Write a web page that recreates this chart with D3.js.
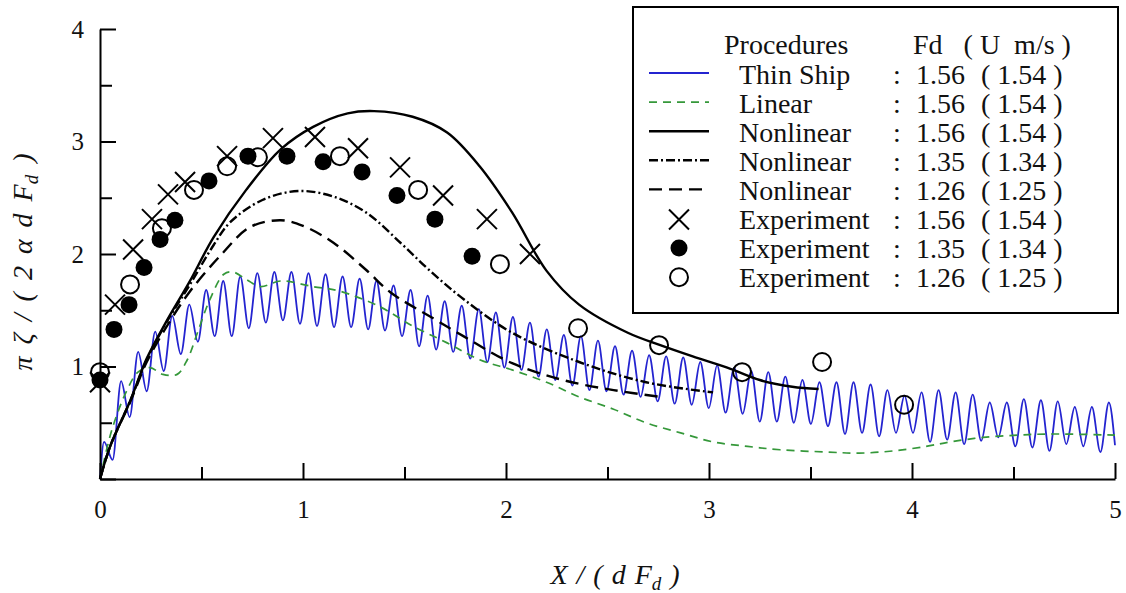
<!DOCTYPE html>
<html>
<head>
<meta charset="utf-8">
<script src="https://cdn.jsdelivr.net/npm/d3@7"></script>
<style>
body { margin: 0; background: #fff; }
svg text { font-family: "Liberation Serif", "Times New Roman", serif; fill: #111; }
</style>
</head>
<body>
<div id="chart"></div>
<script>
var width = 1126;
var height = 593;

// Thin Ship : alternating peaks / troughs
var thinX = [0,
    0.020, 0.062, 0.104, 0.146, 0.188, 0.230, 0.272, 0.314, 0.356, 0.398,
    0.440, 0.482, 0.523, 0.565, 0.607, 0.649, 0.691, 0.733, 0.775, 0.817,
    0.859, 0.901, 0.943, 0.985, 1.027, 1.069, 1.111, 1.153, 1.195, 1.237,
    1.279, 1.321, 1.362, 1.404, 1.446, 1.488, 1.530, 1.572, 1.614, 1.656,
    1.698, 1.740, 1.782, 1.824, 1.866, 1.908, 1.950, 1.992, 2.034, 2.076,
    2.118, 2.160, 2.201, 2.243, 2.285, 2.327, 2.369, 2.411, 2.453, 2.495,
    2.537, 2.579, 2.621, 2.663, 2.705, 2.747, 2.789, 2.831, 2.873, 2.915,
    2.957, 2.999, 3.040, 3.082, 3.124, 3.166, 3.208, 3.250, 3.292, 3.334,
    3.376, 3.418, 3.460, 3.502, 3.544, 3.586, 3.628, 3.670, 3.712, 3.754,
    3.796, 3.838, 3.879, 3.921, 3.963, 4.005, 4.047, 4.089, 4.131, 4.173,
    4.215, 4.257, 4.299, 4.341, 4.383, 4.425, 4.467, 4.509, 4.551, 4.593,
    4.635, 4.677, 4.718, 4.760, 4.802, 4.844, 4.886, 4.928, 4.970, 5.000];
var thinY = [0,
    0.33, 0.17, 0.87, 0.55, 1.13, 0.78, 1.31, 0.96, 1.45, 1.11,
    1.55, 1.22, 1.68, 1.27, 1.76, 1.27, 1.80, 1.34, 1.83, 1.39,
    1.84, 1.41, 1.84, 1.38, 1.83, 1.36, 1.82, 1.35, 1.80, 1.35,
    1.78, 1.33, 1.76, 1.32, 1.72, 1.27, 1.68, 1.18, 1.63, 1.15,
    1.58, 1.13, 1.54, 1.07, 1.51, 1.04, 1.48, 0.99, 1.44, 0.97,
    1.39, 0.91, 1.33, 0.88, 1.28, 0.83, 1.27, 0.79, 1.23, 0.78,
    1.18, 0.75, 1.14, 0.73, 1.10, 0.69, 1.09, 0.67, 1.08, 0.66,
    1.04, 0.63, 1.01, 0.59, 0.99, 0.58, 0.96, 0.51, 0.95, 0.51,
    0.91, 0.50, 0.88, 0.49, 0.86, 0.47, 0.86, 0.40, 0.86, 0.41,
    0.84, 0.38, 0.79, 0.41, 0.74, 0.41, 0.77, 0.33, 0.79, 0.35,
    0.77, 0.31, 0.75, 0.34, 0.68, 0.37, 0.68, 0.29, 0.71, 0.28,
    0.70, 0.25, 0.69, 0.31, 0.64, 0.29, 0.64, 0.24, 0.68, 0.30];

// Linear, Fd 1.56
var linX = [0, 0.059, 0.133, 0.187, 0.246, 0.31, 0.38, 0.43, 0.48, 0.54, 0.61, 0.655, 0.724, 0.79, 0.89, 1.05, 1.18, 1.38,
    1.54, 1.71, 1.87, 2.03, 2.20, 2.36, 2.53, 2.69, 2.86, 3.02, 3.19, 3.35, 3.58, 3.74, 3.91, 4.07, 4.19, 4.35, 4.52, 4.68, 5.0];
var linY = [0, 0.44, 0.79, 0.95, 0.99, 0.93, 0.93, 1.06, 1.30, 1.59, 1.82, 1.84, 1.77, 1.71, 1.76, 1.71, 1.67, 1.53,
    1.36, 1.21, 1.06, 0.97, 0.86, 0.73, 0.62, 0.50, 0.41, 0.33, 0.29, 0.26, 0.24, 0.23, 0.25, 0.29, 0.33, 0.37, 0.39, 0.40, 0.39];

// Nonlinear, Fd 1.56
var nl156X = [0, 0.05, 0.15, 0.23, 0.33, 0.44, 0.56, 0.72, 0.89, 1.05, 1.22, 1.35, 1.54, 1.71, 1.87, 2.03, 2.2, 2.36, 2.6, 2.76, 2.92, 3.09, 3.25, 3.41, 3.54];
var nl156Y = [0, 0.29, 0.70, 1.07, 1.41, 1.75, 2.15, 2.57, 2.93, 3.13, 3.25, 3.27, 3.22, 3.08, 2.78, 2.37, 1.85, 1.55, 1.30, 1.19, 1.09, 0.99, 0.88, 0.82, 0.80];

// Nonlinear, Fd 1.35
var nl135X = [0, 0.05, 0.15, 0.23, 0.33, 0.44, 0.56, 0.64, 0.80, 0.98, 1.15, 1.31, 1.48, 1.62, 1.79, 2.03, 2.36, 2.69, 3.02];
var nl135Y = [0, 0.29, 0.70, 1.06, 1.40, 1.72, 2.08, 2.28, 2.48, 2.56, 2.51, 2.37, 2.10, 1.86, 1.60, 1.30, 1.04, 0.86, 0.77];

// Nonlinear, Fd 1.26
var nl126X = [0, 0.05, 0.15, 0.23, 0.33, 0.44, 0.59, 0.74, 0.89, 1.0, 1.15, 1.31, 1.43, 1.63, 1.79, 2.03, 2.28, 2.53, 2.76];
var nl126Y = [0, 0.29, 0.69, 1.04, 1.36, 1.66, 1.98, 2.24, 2.30, 2.25, 2.10, 1.86, 1.66, 1.44, 1.27, 1.03, 0.88, 0.79, 0.73];

// Experiments
var exp156X = [0.0, 0.074, 0.163, 0.256, 0.335, 0.419, 0.626, 0.852, 1.059, 1.271, 1.478, 1.690, 1.906, 2.118];
var exp156Y = [0.86, 1.55, 2.04, 2.31, 2.53, 2.64, 2.87, 3.03, 3.04, 2.94, 2.77, 2.52, 2.31, 2.00];
var exp135X = [0.0, 0.069, 0.143, 0.217, 0.296, 0.369, 0.537, 0.729, 0.921, 1.099, 1.291, 1.463, 1.650, 1.833];
var exp135Y = [0.88, 1.33, 1.55, 1.88, 2.13, 2.30, 2.65, 2.87, 2.87, 2.82, 2.73, 2.52, 2.31, 1.98];
var exp126X = [0.0, 0.148, 0.305, 0.463, 0.626, 0.778, 1.182, 1.567, 1.970, 2.355, 2.754, 3.163, 3.557, 3.961];
var exp126Y = [0.95, 1.73, 2.23, 2.57, 2.78, 2.86, 2.87, 2.57, 1.91, 1.34, 1.19, 0.95, 1.04, 0.66];

var xMajor = [0, 1, 2, 3, 4, 5];
var xMinor = [0.5, 1.5, 2.5, 3.5, 4.5];
var yMajor = [0, 1, 2, 3, 4];
var yMinor = [0.5, 1.5, 2.5, 3.5];

var legendNames = ["Thin Ship", "Linear", "Nonlinear", "Nonlinear", "Nonlinear", "Experiment", "Experiment", "Experiment"];
var legendFd = ["1.56", "1.56", "1.56", "1.35", "1.26", "1.56", "1.35", "1.26"];
var legendU = ["1.54", "1.54", "1.54", "1.34", "1.25", "1.54", "1.34", "1.25"];

var blue = "#2424d0";
var green = "#35983a";

var svg = d3.select("#chart").append("svg")
    .attr("width", width)
    .attr("height", height);

var x = d3.scaleLinear().domain([0, 5]).range([100, 1115]);
var y = d3.scaleLinear().domain([0, 4]).range([479, 29]);

function zip(xs, ys) {
    return xs.map((v, i) => [v, ys[i]]);
}

var line = d3.line().x(d => x(d[0])).y(d => y(d[1])).curve(d3.curveMonotoneX);
var smooth = d3.line().x(d => x(d[0])).y(d => y(d[1])).curve(d3.curveCatmullRom.alpha(0.5));

// curves
svg.append("path").attr("d", line(zip(thinX, thinY)))
    .style("fill", "none").style("stroke", blue).style("stroke-width", "1.8px");
svg.append("path").attr("d", smooth(zip(linX, linY)))
    .style("fill", "none").style("stroke", green).style("stroke-width", "1.7px")
    .style("stroke-dasharray", "8,6");
svg.append("path").attr("d", smooth(zip(nl156X, nl156Y)))
    .style("fill", "none").style("stroke", "#000").style("stroke-width", "2.4px");
svg.append("path").attr("d", smooth(zip(nl135X, nl135Y)))
    .style("fill", "none").style("stroke", "#000").style("stroke-width", "2.4px")
    .style("stroke-dasharray", "9,3,2,3");
svg.append("path").attr("d", smooth(zip(nl126X, nl126Y)))
    .style("fill", "none").style("stroke", "#000").style("stroke-width", "2.4px")
    .style("stroke-dasharray", "13,7");

// axes
function styleAxis(g) {
    g.attr("font-family", null);
    g.select(".domain").style("stroke", "#000").style("stroke-width", "2px");
    g.selectAll(".tick line").style("stroke", "#000").style("stroke-width", "2px");
    g.selectAll(".tick text").style("font-size", "25px").style("fill", "#111");
}

svg.append("g").attr("transform", "translate(0,479)")
    .call(d3.axisBottom(x).tickValues(xMajor).tickSize(-16).tickSizeOuter(0).tickPadding(21).tickFormat(d3.format("d")))
    .call(styleAxis);
svg.append("g").attr("transform", "translate(0,479)")
    .call(d3.axisBottom(x).tickValues(xMinor).tickSize(-12).tickSizeOuter(0).tickFormat(""))
    .call(styleAxis).call(g => g.select(".domain").remove());

svg.append("g").attr("transform", "translate(100,0)")
    .call(d3.axisLeft(y).tickValues(yMajor).tickSize(-16).tickSizeOuter(0).tickPadding(16)
        .tickFormat(d => d === 0 ? "" : d3.format("d")(d)))
    .call(styleAxis);
svg.append("g").attr("transform", "translate(100,0)")
    .call(d3.axisLeft(y).tickValues(yMinor).tickSize(-12).tickSizeOuter(0).tickFormat(""))
    .call(styleAxis).call(g => g.select(".domain").remove());

// markers
var crossPath = "M-10,-10L10,10M-10,10L10,-10";
svg.selectAll(".exp156").data(zip(exp156X, exp156Y)).enter().append("path")
    .attr("class", "exp156")
    .attr("transform", d => "translate(" + x(d[0]) + "," + y(d[1]) + ")")
    .attr("d", crossPath)
    .style("fill", "none").style("stroke", "#000").style("stroke-width", "2px");
svg.selectAll(".exp135").data(zip(exp135X, exp135Y)).enter().append("circle")
    .attr("class", "exp135")
    .attr("cx", d => x(d[0])).attr("cy", d => y(d[1])).attr("r", 8.5)
    .style("fill", "#000");
svg.selectAll(".exp126").data(zip(exp126X, exp126Y)).enter().append("circle")
    .attr("class", "exp126")
    .attr("cx", d => x(d[0])).attr("cy", d => y(d[1])).attr("r", 9)
    .style("fill", "none").style("stroke", "#000").style("stroke-width", "2px");

// axis titles
var xt = svg.append("text").attr("x", 615).attr("y", 584).attr("text-anchor", "middle")
    .style("font-size", "28px").style("font-style", "italic").style("word-spacing", "2px");
xt.append("tspan").text("X / ( d F");
xt.append("tspan").text("d").attr("dy", 6).style("font-size", "19px");
xt.append("tspan").text(" )").attr("dy", -6);

var yt = svg.append("text").attr("transform", "translate(32,262) rotate(-90)").attr("text-anchor", "middle")
    .style("font-size", "28px").style("font-style", "italic").style("word-spacing", "5px");
yt.append("tspan").text("π ζ / ( 2 α d F");
yt.append("tspan").text("d").attr("dy", 6).style("font-size", "19px");
yt.append("tspan").text(" )").attr("dy", -6);

// legend
var lg = svg.append("g");
lg.append("rect").attr("x", 633).attr("y", 7).attr("width", 485).attr("height", 306)
    .style("fill", "#fff").style("stroke", "#000").style("stroke-width", "2px");

lg.append("text").attr("x", 724).attr("y", 54).style("font-size", "28px").text("Procedures");
lg.append("text").attr("x", 913).attr("y", 54).style("font-size", "28px")
    .style("white-space", "pre").text("Fd   ( U  m/s )");

var rowY = d => 83.5 + d * 29.1;
legendNames.forEach((name, i) => {
    lg.append("text").attr("x", 739).attr("y", rowY(i)).style("font-size", "28px").text(name);
    lg.append("text").attr("x", 893).attr("y", rowY(i)).style("font-size", "28px").text(":");
    lg.append("text").attr("x", 916).attr("y", rowY(i)).style("font-size", "28px").text(legendFd[i]);
    lg.append("text").attr("x", 981).attr("y", rowY(i)).style("font-size", "28px")
        .style("white-space", "pre").text("( " + legendU[i] + " )");
});

var sampleStyles = [
    {stroke: blue, w: "1.8px", dash: null},
    {stroke: green, w: "1.7px", dash: "8,6"},
    {stroke: "#000", w: "2.4px", dash: null},
    {stroke: "#000", w: "2.4px", dash: "9,3,2,3"},
    {stroke: "#000", w: "2.4px", dash: "13,7"}
];
sampleStyles.forEach((s, i) => {
    lg.append("line").attr("x1", 649).attr("x2", 709)
        .attr("y1", rowY(i) - 10.5).attr("y2", rowY(i) - 10.5)
        .style("stroke", s.stroke).style("stroke-width", s.w)
        .style("stroke-dasharray", s.dash);
});
lg.append("path").attr("transform", "translate(679," + (rowY(5) - 9.5) + ")").attr("d", crossPath)
    .style("fill", "none").style("stroke", "#000").style("stroke-width", "2px");
lg.append("circle").attr("cx", 679).attr("cy", rowY(6) - 10).attr("r", 8.5).style("fill", "#000");
lg.append("circle").attr("cx", 679).attr("cy", rowY(7) - 10).attr("r", 9)
    .style("fill", "none").style("stroke", "#000").style("stroke-width", "2px");
</script>
</body>
</html>
